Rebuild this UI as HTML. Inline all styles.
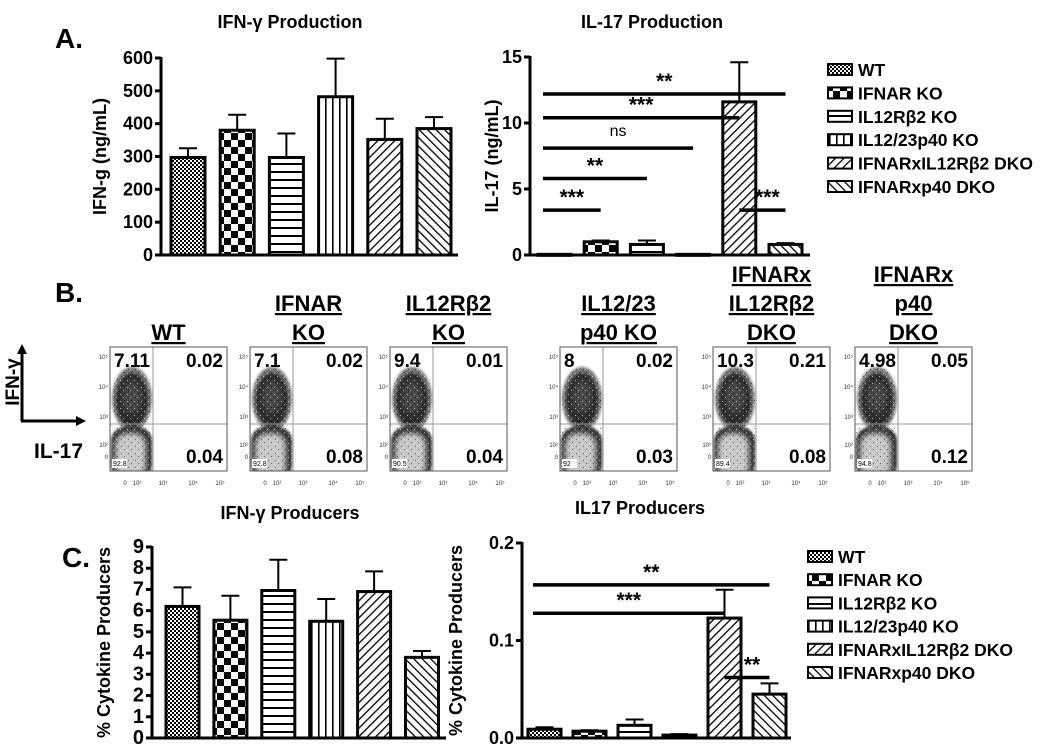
<!DOCTYPE html>
<html><head><meta charset="utf-8">
<style>
html,body{margin:0;padding:0;background:#fff;}
svg{display:block;font-family:"Liberation Sans",Arial,sans-serif;}
</style></head>
<body>
<svg id="fig" width="1050" height="751" viewBox="0 0 1050 751" xmlns="http://www.w3.org/2000/svg">
<defs>
<pattern id="p0" width="4" height="4" patternUnits="userSpaceOnUse"><rect width="4" height="4" fill="#fff"/><rect width="2" height="2" fill="#000"/><rect x="2" y="2" width="2" height="2" fill="#000"/></pattern>
<pattern id="p1" width="14" height="14" patternUnits="userSpaceOnUse"><rect width="14" height="14" fill="#fff"/><rect width="7" height="7" fill="#000"/><rect x="7" y="7" width="7" height="7" fill="#000"/></pattern>
<pattern id="p2" width="8" height="8" patternUnits="userSpaceOnUse"><rect width="8" height="8" fill="#fff"/><rect y="3" width="8" height="2" fill="#000"/></pattern>
<pattern id="p3" width="7" height="8" patternUnits="userSpaceOnUse"><rect width="7" height="8" fill="#fff"/><rect x="3" width="1.6" height="8" fill="#000"/></pattern>
<pattern id="p4" width="6" height="6" patternUnits="userSpaceOnUse" patternTransform="rotate(45)"><rect width="6" height="6" fill="#fff"/><rect width="1.3" height="6" fill="#000"/></pattern>
<pattern id="p5" width="6" height="6" patternUnits="userSpaceOnUse" patternTransform="rotate(-45)"><rect width="6" height="6" fill="#fff"/><rect width="1.3" height="6" fill="#000"/></pattern>
<pattern id="speck" width="7" height="7" patternUnits="userSpaceOnUse"><rect x="1" y="2" width="1" height="1" fill="#fff"/><rect x="4" y="5" width="1" height="1" fill="#fff"/><rect x="5" y="1" width="1" height="1" fill="#000"/><rect x="2" y="5" width="1" height="1" fill="#000"/></pattern>
<filter id="blur"><feGaussianBlur stdDeviation="3"/></filter>
<filter id="blur2"><feGaussianBlur stdDeviation="1.2"/></filter>
</defs>
<text x="55" y="48" font-size="28" font-weight="bold">A.</text>
<text x="55" y="302" font-size="28" font-weight="bold">B.</text>
<text x="62" y="567" font-size="28" font-weight="bold">C.</text>
<g id="root"></g>
</svg>
<script>
const NS="http://www.w3.org/2000/svg";
const root=document.getElementById('root');
function mk(tag,attrs,parent,txt){const e=document.createElementNS(NS,tag);for(const k in attrs)e.setAttribute(k,attrs[k]);if(txt!==undefined)e.textContent=txt;(parent||root).appendChild(e);return e;}

const groups=["WT","IFNAR KO","IL12Rβ2 KO","IL12/23p40 KO","IFNARxIL12Rβ2 DKO","IFNARxp40 DKO"];
const ifngVals=[297,380,297,482,352,385];
const ifngErr=[325,427,370,598,415,420];
const il17Vals=[0.05,1.0,0.8,0.05,11.6,0.8];
const il17Err=[0.05,1.1,1.1,0.05,14.6,0.9];
const ifngPctVals=[6.2,5.55,6.95,5.5,6.9,3.8];
const ifngPctErr=[7.1,6.7,8.4,6.55,7.85,4.1];
const il17PctVals=[0.009,0.007,0.013,0.003,0.123,0.045];
const il17PctErr=[0.011,0.008,0.019,0.004,0.152,0.056];
const ticksA1=[0,100,200,300,400,500,600];
const ticksA2=[0,5,10,15];
const ticksC1=[0,1,2,3,4,5,6,7,8,9];
const ticksC2=["0.0","0.1","0.2"];
const sigA2=[{from:0,to:5,y:12.2,label:"**"},{from:0,to:4,y:10.4,label:"***"},{from:0,to:3,y:8.1,label:"ns"},{from:0,to:2,y:5.8,label:"**"},{from:0,to:1,y:3.4,label:"***"},{from:4,to:5,y:3.4,label:"***"}];
const sigC2=[{from:0,to:5,y:0.157,label:"**"},{from:0,to:4,y:0.128,label:"***"},{from:4,to:5,y:0.062,label:"**"}];

function chart(o){
  const g=mk('g',{});
  
  
  const ys=v=>o.y0-(v-o.min)/(o.max-o.min)*(o.y0-o.y1);
  const t=mk('text',{x:o.titleX,y:o.titleY,'font-size':18,'font-weight':'bold','text-anchor':'middle'},g,o.title);
  
  const yl=mk('text',{x:0,y:0,'font-size':18,'font-weight':'bold','text-anchor':'middle',transform:`translate(${o.ylabX},${(o.y0+o.y1)/2}) rotate(-90)`},g,o.ylab);
  
  mk('line',{x1:o.ax,y1:o.y1-1,x2:o.ax,y2:o.y0+1.5,stroke:'#000','stroke-width':3},g);
  mk('line',{x1:o.ax,y1:o.y0,x2:o.axEnd,y2:o.y0,stroke:'#000','stroke-width':3},g);
  o.ticks.forEach(tv=>{const y=ys(parseFloat(tv));
    mk('line',{x1:o.ax-6,y1:y,x2:o.ax,y2:y,stroke:'#000','stroke-width':3},g);
    const tl=mk('text',{x:o.ax-8,y:y+6,'font-size':o.tickSize||18,'font-weight':'bold','text-anchor':'end'},g,tv);
    
  });
  o.vals.forEach((v,i)=>{
    const x=o.bx0+i*o.step;
    const ye=ys(o.err[i]), yv=ys(v);
    if(o.err[i]>v){
      mk('line',{x1:x+o.bw/2,y1:yv,x2:x+o.bw/2,y2:ye,stroke:'#000','stroke-width':2},g);
      mk('line',{x1:x+o.bw/2-9,y1:ye,x2:x+o.bw/2+9,y2:ye,stroke:'#000','stroke-width':2},g);
    }
    const r=mk('rect',{x:x,y:yv,width:o.bw,height:Math.max(o.y0-yv,1),fill:`url(#p${i})`,stroke:'#000','stroke-width':3},g);
    
    
  });
  (o.sig||[]).forEach(s=>{
    const xa=s.from===0?o.bx0+5:o.bx0+s.from*o.step+o.bw/2;
    const xb=o.bx0+s.to*o.step+o.bw/2;
    const y=ys(s.y);
    mk('line',{x1:xa,y1:y,x2:xb,y2:y,stroke:'#000','stroke-width':3.5},g);
    const sl=mk('text',{x:(xa+xb)/2+(s.from===0?0:5),y:y-(s.label==='ns'?12:6),'font-size':s.label==='ns'?16:21,'font-weight':s.label==='ns'?'normal':'bold','text-anchor':'middle'},g,s.label);
    
  });
  if(o.legend){
    groups.forEach((nm,i)=>{
      const y=o.legend.y+i*o.legend.dy;
      const sw=mk('rect',{x:o.legend.x,y:y-6,width:24,height:11,fill:`url(#p${i})`,stroke:'#000','stroke-width':2},g);
      
      const lt=mk('text',{x:o.legend.x+30,y:y+6,'font-size':17.5,'font-weight':'bold'},g,nm);
      
    });
  }
}

chart({name:'ifng-production-chart',title:'IFN-γ Production',titleX:290,titleY:28,ylab:'IFN-g (ng/mL)',ylabX:106,ax:161,axEnd:458,y0:255,y1:58,min:0,max:600,ticks:ticksA1,vals:ifngVals,err:ifngErr,bx0:171,step:49.2,bw:34});
chart({name:'il17-production-chart',title:'IL-17 Production',titleX:652,titleY:28,ylab:'IL-17 (ng/mL)',ylabX:498,ax:530,axEnd:810,y0:255,y1:57,min:0,max:15,ticks:ticksA2,vals:il17Vals,err:il17Err,bx0:538,step:46.2,bw:33,sig:sigA2,legend:{x:828,y:70,dy:23.4}});
chart({name:'ifng-producers-chart',title:'IFN-γ Producers',titleX:290,titleY:519,ylab:'% Cytokine Producers',ylabX:110,ax:152,axEnd:446,y0:738,y1:547,min:0,max:9,ticks:ticksC1,tickSize:20,vals:ifngPctVals,err:ifngPctErr,bx0:166,step:47.9,bw:33});
chart({name:'il17-producers-chart',title:'IL17 Producers',titleX:640,titleY:514,ylab:'% Cytokine Producers',ylabX:462,ax:522,axEnd:791,y0:738,y1:543,min:0,max:0.2,ticks:ticksC2,vals:il17PctVals,err:il17PctErr,bx0:528,step:45,bw:33,sig:sigC2,legend:{x:808,y:557,dy:23.2}});

// Flow plots
const flowTitles=[["WT"],["IFNAR","KO"],["IL12Rβ2","KO"],["IL12/23","p40 KO"],["IFNARx","IL12Rβ2","DKO"],["IFNARx","p40","DKO"]];
const flowX=[110,250,390,560,713,855];
const q1=["7.11","7.1","9.4","8","10.3","4.98"];
const q2=["0.02","0.02","0.01","0.02","0.21","0.05"];
const q4=["0.04","0.08","0.04","0.03","0.08","0.12"];
const q3=["92.8","92.8","90.5","92","89.4","94.8"];
flowX.forEach((x,i)=>{
  const g=mk('g',{});
  
  
  const w=117,y=347,h=124;
  const lines=flowTitles[i];
  lines.forEach((ln,j)=>{
    const by=340-(lines.length-1-j)*29;
    const tt=mk('text',{x:x+w/2,y:by,'font-size':22,'font-weight':'bold','text-anchor':'middle','text-decoration':'underline'},g,ln);
    
  });
  const cid='clip'+i;
  const cp=mk('clipPath',{id:cid},g);mk('rect',{x:x,y:y,width:w,height:h},cp);
  const dg=mk('g',{'clip-path':`url(#${cid})`},g);
  const vx=x+43, hy=y+77;
  mk('ellipse',{cx:x+22,cy:y+52,rx:20,ry:32,fill:'#777',filter:'url(#blur2)'},dg);
  mk('ellipse',{cx:x+22,cy:y+53,rx:16,ry:27,fill:'#2e2e2e',filter:'url(#blur2)'},dg);
  mk('ellipse',{cx:x+22,cy:y+50,rx:10,ry:16,fill:'#4a4a4a',filter:'url(#blur)'},dg);
  mk('rect',{x:x+1,y:y+80,width:41,height:52,rx:14,fill:'#333',filter:'url(#blur2)'},dg);
  mk('rect',{x:x+5,y:y+86,width:31,height:46,rx:12,fill:'#c8c8c8',filter:'url(#blur)'},dg);
  mk('ellipse',{cx:x+22,cy:y+52,rx:20,ry:32,fill:'url(#speck)',opacity:0.6},dg);
  mk('rect',{x:x+1,y:y+80,width:41,height:52,fill:'url(#speck)',opacity:0.5},dg);
  mk('line',{x1:vx,y1:y,x2:vx,y2:y+h,stroke:'#999','stroke-width':1},g);
  mk('line',{x1:x,y1:hy,x2:x+w,y2:hy,stroke:'#999','stroke-width':1},g);
  mk('rect',{x:x,y:y,width:w,height:h,fill:'none',stroke:'#555','stroke-width':1},g);
  const n1=mk('text',{x:x+4,y:y+20,'font-size':19,'font-weight':'bold'},g,q1[i]);
  
  const n2=mk('text',{x:x+w-4,y:y+20,'font-size':19,'font-weight':'bold','text-anchor':'end'},g,q2[i]);
  
  const n4=mk('text',{x:x+w-4,y:y+h-8,'font-size':19,'font-weight':'bold','text-anchor':'end'},g,q4[i]);
  
  mk('rect',{x:x+2,y:y+h-12,width:15,height:9,fill:'#fff'},g);
  const n3=mk('text',{x:x+3,y:y+h-5,'font-size':7},g,q3[i]);
  
  ["0","10²","10³","10⁴","10⁵"].forEach((l,k)=>{const tx=[x+15,x+27,x+53,x+83,x+110][k];mk('text',{x:tx,y:y+h+14,'font-size':6,'text-anchor':'middle',fill:'#333'},g,l);});
  ["10⁵","10⁴","10³","10²","0"].forEach((l,k)=>{const ty=[y+12,y+42,y+72,y+100,y+112][k];mk('text',{x:x-2,y:ty,'font-size':6,'text-anchor':'end',fill:'#333'},g,l);});
});
// axis legend for flow
const ag=mk('g',{});
mk('line',{x1:22,y1:421,x2:22,y2:350,stroke:'#000','stroke-width':3},ag);
mk('polygon',{points:'22,344 17,354 27,354',fill:'#000'},ag);
mk('line',{x1:21,y1:421,x2:78,y2:421,stroke:'#000','stroke-width':3},ag);
mk('polygon',{points:'86,421 76,416 76,426',fill:'#000'},ag);
mk('text',{x:0,y:0,'font-size':19,'font-weight':'bold','text-anchor':'middle',transform:'translate(19,382) rotate(-90)'},ag,'IFN-γ');
mk('text',{x:34,y:458,'font-size':21,'font-weight':'bold'},ag,'IL-17');
</script>
</body></html>
